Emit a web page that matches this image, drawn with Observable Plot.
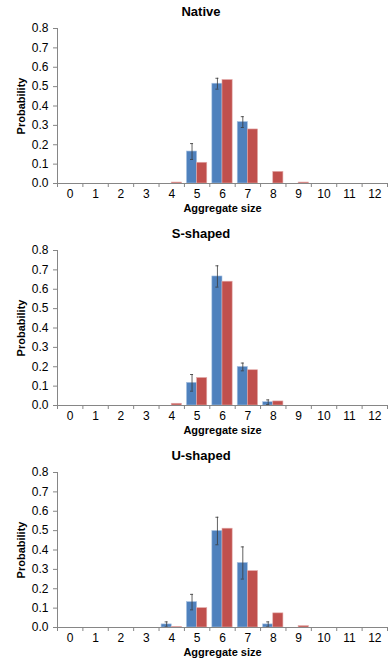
<!DOCTYPE html>
<html>
<head>
<meta charset="utf-8">
<script src="https://cdn.jsdelivr.net/npm/d3@7"></script>
<script src="https://cdn.jsdelivr.net/npm/@observablehq/plot@0.6"></script>
<style>
  body { margin: 0; background: #fff; }
  .panel { width: 388px; height: 222px; overflow: hidden; }
  .title { height: 20px; padding-top: 4px; line-height: 22px; font: bold 13px "Liberation Sans", Arial, sans-serif; text-align: center; padding-left: 14px; box-sizing: border-box; width: 388px; white-space: nowrap; }
  svg [aria-label="y-axis label"] text, svg [aria-label="x-axis label"] text,
  svg g[aria-label="y-axis label"], svg g[aria-label="x-axis label"] { font-weight: bold; font-size: 11px; }
</style>
</head>
<body>
<div id="chart"></div>
<script>
const sizes = [0, 1, 2, 3, 4, 5, 6, 7, 8, 9, 10, 11, 12];
const yTicks = [0, 0.1, 0.2, 0.3, 0.4, 0.5, 0.6, 0.7, 0.8];
const boundaries = [-0.5, 0.5, 1.5, 2.5, 3.5, 4.5, 5.5, 6.5, 7.5, 8.5, 9.5, 10.5, 11.5, 12.5];
const panelTitles = ["Native", "S-shaped", "U-shaped"];

const nativeObs    = [0, 0, 0, 0, 0,     0.165, 0.515, 0.317, 0,     0,     0, 0, 0];
const nativeObsErr = [0, 0, 0, 0, 0,     0.041, 0.028, 0.028, 0,     0,     0, 0, 0];
const nativeSim    = [0, 0, 0, 0, 0.005, 0.107, 0.534, 0.279, 0.060, 0.005, 0, 0, 0];

const sObs    = [0, 0, 0, 0, 0,     0.117, 0.666, 0.199, 0.017, 0, 0, 0, 0];
const sObsErr = [0, 0, 0, 0, 0,     0.043, 0.055, 0.020, 0.012, 0, 0, 0, 0];
const sSim    = [0, 0, 0, 0, 0.009, 0.142, 0.639, 0.182, 0.021, 0, 0, 0, 0];

const uObs    = [0, 0, 0, 0, 0.016, 0.131, 0.498, 0.333, 0.016, 0,     0, 0, 0];
const uObsErr = [0, 0, 0, 0, 0.013, 0.040, 0.071, 0.083, 0.013, 0,     0, 0, 0];
const uSim    = [0, 0, 0, 0, 0.003, 0.100, 0.510, 0.291, 0.073, 0.007, 0, 0, 0];

const obsColor = "#4F81BD";
const simColor = "#C0504D";
const axisColor = "#868686";
const font = "'Liberation Sans', Arial, sans-serif";

function panel(title, obs, err, sim) {
  const rows = sizes.map((s, i) => ({size: s, obs: obs[i], err: err[i], sim: sim[i]}));
  const obsRows = rows.filter(d => d.obs > 0);
  const simRows = rows.filter(d => d.sim > 0);
  const errRows = rows.filter(d => d.err > 0);
  const wrap = document.createElement("div");
  wrap.className = "panel";
  const t = document.createElement("div");
  t.className = "title";
  t.textContent = title;
  wrap.appendChild(t);
  const plot = Plot.plot({
    width: 388, height: 202,
    marginTop: 8, marginBottom: 39, marginLeft: 57, marginRight: 1,
    style: {fontFamily: font, fontSize: "12px", color: "#000", background: "#fff", overflow: "visible"},
    x: {type: "linear", domain: [-0.5, 12.5]},
    y: {domain: [0, 0.8]},
    marks: [
      Plot.rectY(obsRows, {x1: d => d.size - 0.4, x2: d => d.size, y1: 0, y2: "obs", fill: obsColor, stroke: "#a9c2e2", strokeWidth: 0.6}),
      Plot.rectY(simRows, {x1: d => d.size, x2: d => d.size + 0.4, y1: 0, y2: "sim", fill: simColor, stroke: "#e3aaa9", strokeWidth: 0.6}),
      Plot.ruleX(errRows, {x: d => d.size - 0.2, y1: d => d.obs - d.err, y2: d => d.obs + d.err, stroke: "#3a3a3a", strokeWidth: 0.8}),
      Plot.ruleY(errRows, {y: d => d.obs + d.err, x1: d => d.size - 0.26, x2: d => d.size - 0.14, stroke: "#3a3a3a", strokeWidth: 0.8}),
      Plot.ruleY(errRows, {y: d => d.obs - d.err, x1: d => d.size - 0.26, x2: d => d.size - 0.14, stroke: "#3a3a3a", strokeWidth: 0.8}),
      Plot.axisY({ticks: yTicks, tickFormat: d3.format(".1f"), tickSize: 4, tickPadding: 5, stroke: axisColor,
        label: "Probability", labelAnchor: "center", labelOffset: 40, labelArrow: "none"}),
      Plot.axisX({ticks: boundaries, tickFormat: () => "", tickSize: 4, stroke: axisColor, label: null}),
      Plot.axisX({ticks: sizes, tickFormat: d3.format("d"), tickSize: 0, tickPadding: 6,
        label: "Aggregate size", labelAnchor: "center", labelOffset: 28, labelArrow: "none"}),
      Plot.ruleY([0], {stroke: axisColor}),
      Plot.frame({anchor: "left", stroke: axisColor})
    ]
  });
  wrap.appendChild(plot);
  return wrap;
}

const root = document.getElementById("chart");
root.appendChild(panel(panelTitles[0], nativeObs, nativeObsErr, nativeSim));
root.appendChild(panel(panelTitles[1], sObs, sObsErr, sSim));
root.appendChild(panel(panelTitles[2], uObs, uObsErr, uSim));
</script>
</body>
</html>
